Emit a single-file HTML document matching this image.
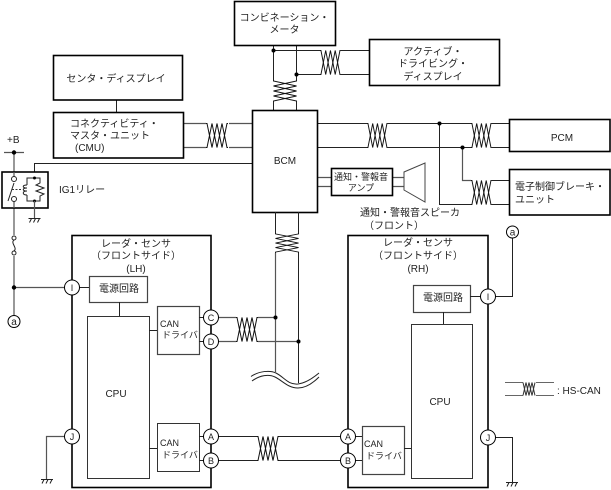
<!DOCTYPE html>
<html><head><meta charset="utf-8"><style>
html,body{margin:0;padding:0;background:#fff;width:611px;height:490px;overflow:hidden}
svg{display:block}
text{font-family:"Liberation Sans","Noto Sans CJK JP",sans-serif;font-size:10px;fill:#222}
.m{text-anchor:middle}
.s{font-size:9px}
.b{fill:#fff;stroke:#000;stroke-width:1.6}
.i{fill:#fff;stroke:#333;stroke-width:1}
.w{fill:none;stroke:#222;stroke-width:1}
.g{fill:none;stroke:#555;stroke-width:1.2}
.c{fill:#fff;stroke:#000;stroke-width:1}
</style></head><body>
<svg width="611" height="490" viewBox="0 0 611 490" xmlns="http://www.w3.org/2000/svg">
<defs>
<g id="tw" fill="none" stroke="#111" stroke-width="1">
<path d="M0 0H1L6 24L11 0L16 24L21 0H22"/>
<path d="M0 24H1L6 0L11 24L16 0L21 24H22"/>
</g>
<g id="gnd" fill="none" stroke="#222" stroke-width="1">
<path d="M-6 0H6M-5 4L-3 0M-1 4L1 0M3 4L5 0"/>
</g>
</defs>

<!-- wires top -->
<path class="w" d="M273.500 45V80M296.500 45V80M273.500 102V110M296.500 102V110"/>
<path class="w" d="M273.500 50.500H320M341 50.500H369M296.500 74.500H320M341 74.500H369"/>
<use href="#tw" transform="translate(320,50.500) scale(.95,1)"/>
<use href="#tw" transform="matrix(0 1 .96 0 273.500 80)"/>
<circle cx="273.500" cy="50.500" r="2"/><circle cx="296.500" cy="74.500" r="2"/>

<!-- CMU to BCM -->
<path class="w" d="M116.500 100V112"/>
<path class="g" d="M183 123.500H206M229 123.500H252M183 147.500H206M229 147.500H252"/>
<use href="#tw" transform="translate(206,123.500)"/>

<!-- BCM to PCM -->
<path class="w" d="M317 123.500H367M388 123.500H471M492 123.500H509M317 147.500H367M388 147.500H471M492 147.500H509"/>
<use href="#tw" transform="translate(367,123.500) scale(.95,1)"/>
<use href="#tw" transform="translate(471,123.500) scale(.95,1)"/>
<path class="w" d="M439.500 123.500V204.500H471M492 204.500H509M492 180.500H509"/>
<path class="g" d="M462.500 147.500V180.500H471"/>
<use href="#tw" transform="translate(471,180.500) scale(.95,1)"/>
<circle cx="439.500" cy="123.500" r="2"/><circle cx="462.500" cy="147.500" r="2"/>

<!-- amp -->
<path class="g" d="M317 177.500H331M317 186.500H331M392 177.500H404M392 186.500H404"/>
<path d="M404 172L425 163V202L404 190Z" fill="#fff" stroke="#444" stroke-width="1"/>

<!-- relay wire -->
<path class="w" d="M34.500 178V163.500H252"/>

<!-- left power -->
<path class="g" d="M4 152.500H24"/>
<path class="g" d="M14 152V179M14 199V235M14 256V315"/>
<path class="g" d="M14 287.500H65"/>
<circle cx="14" cy="152.500" r="2.200"/><circle cx="14" cy="287.500" r="2.200"/>
<path class="w" d="M14 240C10 243 18 248 14 251"/>
<circle cx="14" cy="238" r="2" fill="#fff" stroke="#222"/><circle cx="14" cy="253" r="2" fill="#fff" stroke="#222"/>

<!-- relay -->
<rect x="2" y="172" width="46" height="36" class="b"/>
<path class="g" d="M14 172V179M14 199V208"/>
<circle cx="14" cy="179" r="2.500" fill="#fff" stroke="#222"/><circle cx="14" cy="199" r="2.500" fill="#fff" stroke="#222"/>
<path class="w" d="M8 201L14 183"/>
<path d="M12 189.500H22" fill="none" stroke="#333" stroke-dasharray="2 1.500"/>
<path class="w" d="M34.500 178H27V185M27 195V201H34.500M34.500 178H40V183L36 185L44 188L36 191L44 194L40 196V201H34.500"/>
<path class="w" d="M27 185C22 185 22 188 27 188C22 188 22 191 27 191C22 191 22 195 27 195"/>
<circle cx="34.500" cy="178" r="1.500"/><circle cx="34.500" cy="201" r="1.500"/>
<path class="g" d="M34.500 201V218"/>
<use href="#gnd" transform="translate(34.500,218.500)"/>

<!-- main boxes -->
<rect x="234.500" y="1.500" width="101" height="44" class="b"/>
<rect x="369.500" y="39.500" width="130" height="46" class="b"/>
<rect x="53.500" y="55.500" width="129" height="44.500" class="b"/>
<rect x="53.500" y="112.500" width="130" height="45.500" class="b"/>
<rect x="252.500" y="110.500" width="65" height="102" class="b"/>
<rect x="509.500" y="119.500" width="100.500" height="32" class="b"/>
<rect x="509.500" y="169.500" width="100.500" height="45.500" class="b"/>
<rect x="331.500" y="168.500" width="61" height="27" class="b"/>

<!-- sensors -->
<rect x="72" y="235.500" width="139" height="252" class="b"/>
<rect x="348" y="235.500" width="140" height="252" class="b"/>
<rect x="89.500" y="276.500" width="58" height="26" fill="#fff" stroke="#444" stroke-width="1.200"/>
<rect x="87.500" y="316.500" width="62" height="162" class="i"/>
<rect x="157.500" y="306.500" width="42" height="48" fill="#fff" stroke="#444" stroke-width="1.200"/>
<rect x="157.500" y="423.500" width="42" height="48" class="i"/>
<rect x="413.500" y="285.500" width="57" height="27" fill="#fff" stroke="#444" stroke-width="1.200"/>
<rect x="411.500" y="324.500" width="61" height="154" class="i"/>
<rect x="362.500" y="426.500" width="42" height="48" fill="#fff" stroke="#444" stroke-width="1.200"/>
<path class="w" d="M119.500 302V316M149 330.500H157M149 448.500H157M199 317.500H211M199 341.500H211M199 436.500H211M199 460.500H211M89 287.500H72"/>
<path class="w" d="M443.500 312V324M404 448.500H411M348 436.500H362M348 460.500H362M470 296.500H488"/>

<!-- BCM to bottom -->
<path class="w" d="M275.500 212V233M298.500 212V233"/>
<use href="#tw" transform="matrix(0 .91 .96 0 275.500 233)"/>
<path class="g" d="M275.500 253V372"/>
<path class="w" d="M298.500 253V383"/>
<path class="g" d="M218 317.500H236M258 317.500H275M218 341.500H236M258 341.500H298"/>
<use href="#tw" transform="translate(236,317.500)"/>
<circle cx="275.500" cy="317.500" r="2"/><circle cx="298.500" cy="341.500" r="2"/>
<path class="w" d="M251 376.500C259 371 270 370 276 373C284 377 288 385 298 384C306 383 313 378 319 373"/>
<path class="w" d="M252 381C260 375 269 374 275 377C283 381 288 388 298 388C306 388 314 382 319 377"/>

<!-- A/B link -->
<path class="w" d="M218 436.500H257M279 436.500H341M218 460.500H257M279 460.500H341"/>
<use href="#tw" transform="translate(257,436.500)"/>

<!-- side wires -->
<path class="w" d="M495 296.500H512.500V238"/>
<path class="w" d="M495 437.500H512.500V482"/>
<use href="#gnd" transform="translate(512,482.500)"/>
<path class="g" d="M65 436.500H46.500V479"/>
<use href="#gnd" transform="translate(47,479.500)"/>

<!-- connectors -->
<g class="c">
<circle cx="72" cy="287.500" r="7.500"/><circle cx="72" cy="436.500" r="7.500"/>
<circle cx="211" cy="317.500" r="7.500"/><circle cx="211" cy="341.500" r="7.500"/>
<circle cx="211" cy="436.500" r="7.500"/><circle cx="211" cy="460.500" r="7.500"/>
<circle cx="348" cy="436.500" r="7.500"/><circle cx="348" cy="460.500" r="7.500"/>
<circle cx="488" cy="296.500" r="7.500"/><circle cx="488" cy="437.500" r="7.500"/>
<circle cx="14" cy="321.500" r="6"/><circle cx="512.500" cy="232" r="6"/>
</g>
<g>
<text class="m s" x="72" y="291">I</text><text class="m s" x="72" y="440">J</text>
<text class="m s" x="211" y="321">C</text><text class="m s" x="211" y="345">D</text>
<text class="m s" x="211" y="440">A</text><text class="m s" x="211" y="464">B</text>
<text class="m s" x="348" y="440">A</text><text class="m s" x="348" y="464">B</text>
<text class="m s" x="488" y="300">I</text><text class="m s" x="488" y="441">J</text>
<text class="m" x="14" y="325">a</text><text class="m" x="512.500" y="235.500">a</text>
</g>

<!-- legend -->
<path d="M505 382.500H523M505 395.500H523M536 382.500H554M536 395.500H554" fill="none" stroke="#666"/>
<path d="M523 382.500L526 395.500L529 382.500L532 395.500L535 382.500M523 395.500L526 382.500L529 395.500L532 382.500L535 395.500" fill="none" stroke="#333"/>
<text x="557" y="394">: HS-CAN</text>

<!-- labels -->
<text class="m" x="284.500" y="21">コンビネーション・</text>
<text class="m" x="284.500" y="33">メータ</text>
<text class="m" x="433" y="55">アクティブ・</text>
<text class="m" x="433" y="67">ドライビング・</text>
<text class="m" x="433" y="80">ディスプレイ</text>
<text class="m" x="116" y="82">センタ・ディスプレイ</text>
<text x="70" y="127">コネクティビティ・</text>
<text x="70" y="139">マスタ・ユニット</text>
<text x="75" y="151">(CMU)</text>
<text x="7" y="143">+B</text>
<text x="59" y="193">IG1リレー</text>
<text class="m" x="285" y="164">BCM</text>
<text class="m" x="562" y="141">PCM</text>
<text x="515" y="190">電子制御ブレーキ・</text>
<text x="515" y="203">ユニット</text>
<text class="m s" x="361" y="180">通知・警報音</text>
<text class="m s" x="361" y="191">アンプ</text>
<text x="360" y="216">通知・警報音スピーカ</text>
<text x="364" y="229">（フロント）</text>
<text class="m" x="136" y="247">レーダ・センサ</text>
<text class="m" x="136" y="259">（フロントサイド）</text>
<text class="m" x="136" y="272">(LH)</text>
<text class="m" x="119" y="292">電源回路</text>
<text class="m" x="116" y="397">CPU</text>
<text class="s" x="160" y="327">CAN</text><text class="s" x="162" y="338">ドライバ</text>
<text class="s" x="160" y="446">CAN</text><text class="s" x="162" y="458">ドライバ</text>
<text class="m" x="418" y="246">レーダ・センサ</text>
<text class="m" x="418" y="259">（フロントサイド）</text>
<text class="m" x="418" y="272">(RH)</text>
<text class="m" x="443" y="301">電源回路</text>
<text class="m" x="440" y="405">CPU</text>
<text class="s" x="364" y="447">CAN</text><text class="s" x="366" y="459">ドライバ</text>
</svg>
</body></html>
